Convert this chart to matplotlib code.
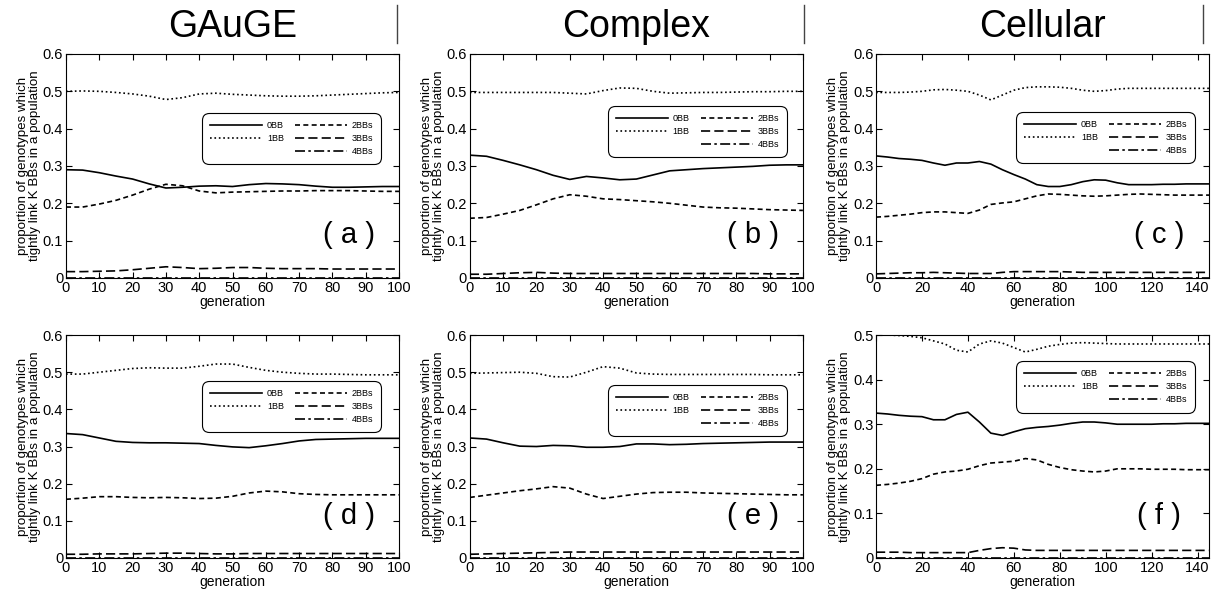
import matplotlib
matplotlib.use("Agg")
import matplotlib.pyplot as plt
from matplotlib.lines import Line2D

plt.rcParams["font.family"] = ["Liberation Sans", "DejaVu Sans"]

# generations sampled every 5 steps
gen_100 = list(range(0, 101, 5))
gen_145 = list(range(0, 146, 5))

series_names = ["0BB", "1BB", "2BBs", "3BBs", "4BBs"]
group_titles = ["GAuGE", "Complex", "Cellular"]
panel_tags = ["( a )", "( b )", "( c )", "( d )", "( e )", "( f )"]

# (a) GAuGE, top
a_0bb = [0.290, 0.289, 0.282, 0.273, 0.265, 0.252, 0.241, 0.243, 0.246, 0.247, 0.245,
         0.250, 0.253, 0.252, 0.250, 0.246, 0.243, 0.243, 0.244, 0.245, 0.245]
a_1bb = [0.500, 0.501, 0.500, 0.497, 0.493, 0.487, 0.478, 0.483, 0.493, 0.495, 0.492,
         0.490, 0.488, 0.487, 0.487, 0.488, 0.490, 0.492, 0.494, 0.496, 0.497]
a_2bbs = [0.190, 0.190, 0.198, 0.208, 0.222, 0.238, 0.251, 0.247, 0.233, 0.228, 0.230,
          0.231, 0.232, 0.233, 0.233, 0.234, 0.234, 0.234, 0.233, 0.232, 0.232]
a_3bbs = [0.017, 0.017, 0.018, 0.019, 0.022, 0.026, 0.030, 0.028, 0.025, 0.026, 0.028,
          0.028, 0.026, 0.025, 0.025, 0.025, 0.024, 0.024, 0.024, 0.024, 0.024]
a_4bbs = [0.001, 0.001, 0.001, 0.001, 0.001, 0.001, 0.001, 0.001, 0.001, 0.001, 0.001,
          0.001, 0.001, 0.001, 0.001, 0.001, 0.001, 0.001, 0.001, 0.001, 0.001]

# (b) Complex, top
b_0bb = [0.329, 0.326, 0.315, 0.303, 0.290, 0.275, 0.264, 0.272, 0.268, 0.263, 0.265,
         0.276, 0.287, 0.290, 0.293, 0.295, 0.297, 0.299, 0.302, 0.303, 0.303]
b_1bb = [0.497, 0.497, 0.497, 0.497, 0.497, 0.497, 0.495, 0.493, 0.502, 0.509, 0.508,
         0.500, 0.495, 0.496, 0.497, 0.497, 0.498, 0.499, 0.499, 0.500, 0.500]
b_2bbs = [0.160, 0.162, 0.171, 0.181, 0.196, 0.212, 0.223, 0.219, 0.212, 0.210, 0.207,
          0.204, 0.200, 0.195, 0.190, 0.188, 0.187, 0.185, 0.183, 0.182, 0.181]
b_3bbs = [0.010, 0.010, 0.012, 0.014, 0.015, 0.013, 0.012, 0.012, 0.012, 0.012, 0.012,
          0.012, 0.012, 0.012, 0.012, 0.012, 0.012, 0.012, 0.011, 0.011, 0.011]
b_4bbs = [0.001, 0.001, 0.001, 0.001, 0.001, 0.001, 0.001, 0.001, 0.001, 0.001, 0.001,
          0.001, 0.001, 0.001, 0.001, 0.001, 0.001, 0.001, 0.001, 0.001, 0.001]

# (c) Cellular, top
c_0bb = [0.327, 0.324, 0.320, 0.318, 0.315, 0.308, 0.302, 0.308, 0.308, 0.312,
         0.305, 0.290, 0.277, 0.265, 0.250, 0.245, 0.245, 0.250, 0.258, 0.263,
         0.262, 0.255, 0.250, 0.250, 0.250, 0.251, 0.251, 0.252, 0.252, 0.252]
c_1bb = [0.497, 0.497, 0.497, 0.498, 0.500, 0.504, 0.505, 0.503, 0.500, 0.490,
         0.477, 0.490, 0.503, 0.510, 0.512, 0.512, 0.511, 0.508, 0.503, 0.500,
         0.502, 0.506, 0.508, 0.508, 0.508, 0.508, 0.508, 0.508, 0.508, 0.508]
c_2bbs = [0.163, 0.165, 0.168, 0.171, 0.175, 0.177, 0.177, 0.175, 0.173, 0.182,
          0.197, 0.201, 0.204, 0.212, 0.220, 0.225, 0.224, 0.222, 0.220, 0.219,
          0.220, 0.222, 0.224, 0.225, 0.224, 0.223, 0.222, 0.222, 0.222, 0.222]
c_3bbs = [0.011, 0.012, 0.013, 0.014, 0.014, 0.015, 0.014, 0.013, 0.012, 0.012,
          0.012, 0.015, 0.017, 0.017, 0.017, 0.017, 0.017, 0.016, 0.015, 0.015,
          0.015, 0.015, 0.015, 0.015, 0.015, 0.015, 0.015, 0.015, 0.015, 0.015]
c_4bbs = [0.001, 0.001, 0.001, 0.001, 0.001, 0.001, 0.001, 0.001, 0.001, 0.001,
          0.001, 0.001, 0.001, 0.001, 0.001, 0.001, 0.001, 0.001, 0.001, 0.001,
          0.001, 0.001, 0.001, 0.001, 0.001, 0.001, 0.001, 0.001, 0.001, 0.001]

# (d) GAuGE, bottom
d_0bb = [0.335, 0.332, 0.323, 0.314, 0.311, 0.310, 0.310, 0.309, 0.308, 0.303, 0.299,
         0.297, 0.302, 0.308, 0.315, 0.319, 0.320, 0.321, 0.322, 0.322, 0.322]
d_1bb = [0.495, 0.495, 0.500, 0.505, 0.510, 0.512, 0.511, 0.511, 0.516, 0.522, 0.522,
         0.513, 0.505, 0.500, 0.497, 0.495, 0.495, 0.494, 0.493, 0.493, 0.493]
d_2bbs = [0.158, 0.161, 0.165, 0.165, 0.163, 0.162, 0.163, 0.162, 0.160, 0.161, 0.166,
          0.175, 0.180, 0.178, 0.173, 0.171, 0.170, 0.170, 0.170, 0.170, 0.170]
d_3bbs = [0.010, 0.010, 0.011, 0.011, 0.011, 0.012, 0.013, 0.013, 0.012, 0.011, 0.011,
          0.012, 0.012, 0.012, 0.012, 0.012, 0.012, 0.012, 0.012, 0.012, 0.012]
d_4bbs = [0.001, 0.001, 0.001, 0.001, 0.001, 0.001, 0.001, 0.001, 0.001, 0.001, 0.001,
          0.001, 0.001, 0.001, 0.001, 0.001, 0.001, 0.001, 0.001, 0.001, 0.001]

# (e) Complex, bottom
e_0bb = [0.323, 0.320, 0.310, 0.301, 0.300, 0.303, 0.302, 0.298, 0.298, 0.300, 0.307,
         0.307, 0.305, 0.306, 0.308, 0.309, 0.310, 0.311, 0.312, 0.312, 0.312]
e_1bb = [0.497, 0.498, 0.499, 0.500, 0.497, 0.488, 0.487, 0.500, 0.515, 0.511, 0.498,
         0.495, 0.494, 0.494, 0.494, 0.494, 0.494, 0.494, 0.493, 0.493, 0.493]
e_2bbs = [0.163, 0.169, 0.175, 0.181, 0.186, 0.192, 0.188, 0.172, 0.160, 0.166, 0.172,
          0.176, 0.177, 0.177, 0.175, 0.174, 0.173, 0.172, 0.171, 0.170, 0.170]
e_3bbs = [0.010, 0.011, 0.012, 0.013, 0.014, 0.015, 0.016, 0.016, 0.016, 0.016, 0.016,
          0.016, 0.016, 0.016, 0.016, 0.016, 0.016, 0.016, 0.016, 0.016, 0.016]
e_4bbs = [0.001, 0.001, 0.001, 0.001, 0.001, 0.001, 0.001, 0.001, 0.001, 0.001, 0.001,
          0.001, 0.001, 0.001, 0.001, 0.001, 0.001, 0.001, 0.001, 0.001, 0.001]

# (f) Cellular, bottom
f_0bb = [0.325, 0.323, 0.320, 0.318, 0.317, 0.310, 0.310, 0.322, 0.327, 0.305,
         0.280, 0.275, 0.283, 0.290, 0.293, 0.295, 0.298, 0.302, 0.305, 0.305,
         0.303, 0.300, 0.300, 0.300, 0.300, 0.301, 0.301, 0.302, 0.302, 0.302]
f_1bb = [0.500, 0.500, 0.499, 0.497, 0.494, 0.487, 0.480, 0.466, 0.462, 0.480,
         0.487, 0.482, 0.472, 0.462, 0.468, 0.475, 0.479, 0.482, 0.483, 0.482,
         0.481, 0.480, 0.480, 0.480, 0.480, 0.480, 0.480, 0.480, 0.480, 0.480]
f_2bbs = [0.163, 0.165, 0.168, 0.172, 0.178, 0.188, 0.193, 0.195, 0.199, 0.207,
          0.213, 0.215, 0.217, 0.223, 0.220, 0.210, 0.203, 0.198, 0.195, 0.193,
          0.195, 0.200, 0.200, 0.200, 0.199, 0.199, 0.199, 0.198, 0.198, 0.198]
f_3bbs = [0.013, 0.013, 0.013, 0.012, 0.012, 0.012, 0.012, 0.012, 0.012, 0.017,
          0.021, 0.023, 0.022, 0.018, 0.017, 0.017, 0.017, 0.017, 0.017, 0.017,
          0.017, 0.017, 0.017, 0.017, 0.017, 0.017, 0.017, 0.017, 0.017, 0.017]
f_4bbs = [0.001, 0.001, 0.001, 0.001, 0.001, 0.001, 0.001, 0.001, 0.001, 0.001,
          0.001, 0.001, 0.001, 0.001, 0.001, 0.001, 0.001, 0.001, 0.001, 0.001,
          0.001, 0.001, 0.001, 0.001, 0.001, 0.001, 0.001, 0.001, 0.001, 0.001]

styles = ["-", ":", (0, (3, 2)), (0, (5.5, 2.5)), (0, (6, 2, 1.5, 2))]

fig = plt.figure(figsize=(12.11, 5.96), dpi=100)

# axes rectangles in figure fraction
lefts = [0.0545, 0.388, 0.7234]
width = 0.275
rows = [(0.5336, 0.3758), (0.0638, 0.374)]

panels = [
    (gen_100, [a_0bb, a_1bb, a_2bbs, a_3bbs, a_4bbs], 100, 0.6, (0.408, 0.737)),
    (gen_100, [b_0bb, b_1bb, b_2bbs, b_3bbs, b_4bbs], 100, 0.6, (0.414, 0.768)),
    (gen_145, [c_0bb, c_1bb, c_2bbs, c_3bbs, c_4bbs], 145, 0.6, (0.420, 0.741)),
    (gen_100, [d_0bb, d_1bb, d_2bbs, d_3bbs, d_4bbs], 100, 0.6, (0.408, 0.794)),
    (gen_100, [e_0bb, e_1bb, e_2bbs, e_3bbs, e_4bbs], 100, 0.6, (0.414, 0.776)),
    (gen_145, [f_0bb, f_1bb, f_2bbs, f_3bbs, f_4bbs], 145, 0.5, (0.420, 0.883)),
]

for i, (gen, ys, xmax, ymax, leg_pos) in enumerate(panels):
    row, col = divmod(i, 3)
    bottom, height = rows[row]
    ax = fig.add_axes([lefts[col], bottom, width, height])

    handles = []
    for y, ls, name in zip(ys, styles, series_names):
        (h,) = ax.plot(gen, y, color="black", linestyle=ls, linewidth=1.2, label=name)
        handles.append(h)

    ax.set_xlim(0, xmax)
    ax.set_ylim(0, ymax)
    if xmax == 100:
        ax.set_xticks(range(0, 101, 10))
    else:
        ax.set_xticks(range(0, 141, 20))
    n_y = int(round(ymax * 10)) + 1
    ax.set_yticks([t / 10 for t in range(n_y)])
    ax.set_yticklabels([f"{t / 10:g}" for t in range(n_y)])
    ax.tick_params(direction="in", top=True, right=True, length=4, labelsize=10.5, pad=2)
    for sp in ax.spines.values():
        sp.set_linewidth(0.8)

    ax.set_xlabel("generation", fontsize=10, labelpad=0)
    ax.set_ylabel("proportion of genotypes which\ntightly link K BBs in a population",
                  fontsize=9.6, labelpad=1, linespacing=1.05)

    ax.text(0.85, 0.19, panel_tags[i], transform=ax.transAxes, fontsize=21,
            ha="center", va="center")

    blank = Line2D([], [], linestyle="none")
    leg = ax.legend(handles[:2] + [blank] + handles[2:],
                    series_names[:2] + [""] + series_names[2:],
                    ncol=2, loc="upper left", bbox_to_anchor=leg_pos,
                    fontsize=6.5, handlelength=5.8, handletextpad=0.5,
                    columnspacing=1.2, labelspacing=0.45, borderpad=0.9,
                    fancybox=True, framealpha=1, borderaxespad=0)
    leg.get_frame().set_edgecolor("black")
    leg.get_frame().set_linewidth(0.8)
    leg.get_frame().set_boxstyle("round", pad=0, rounding_size=0.8)

# group titles and separators
for col, title in enumerate(group_titles):
    cx = lefts[col] + width / 2
    fig.text(cx, 1 - 27 / 596, title, fontsize=27, ha="center", va="center")

for xpix in [397, 804, 1203]:
    fig.add_artist(Line2D([xpix / 1211, xpix / 1211], [1 - 5 / 596, 1 - 43 / 596],
                          color="#444444", linewidth=1))

fig.savefig("out.png", dpi=100)
